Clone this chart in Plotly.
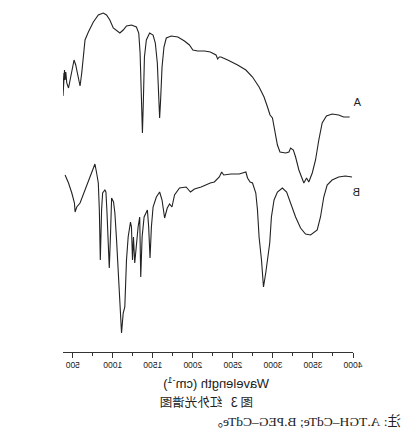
import plotly.graph_objects as go

wn_a = [376, 378, 397, 404, 413, 425, 447, 466, 488, 516, 537, 562, 591, 612, 633, 653,
        695, 757, 819, 881, 922, 963, 1006, 1047, 1088, 1130, 1171, 1233, 1295, 1324,
        1341, 1357, 1370, 1382, 1395, 1419, 1460, 1503, 1531, 1556, 1572, 1585, 1597,
        1615, 1639, 1668, 1730, 1813, 1895, 1957, 2000, 2062, 2144, 2218, 2289, 2310,
        2330, 2351, 2435, 2559, 2662, 2745, 2827, 2889, 2932, 2964, 2994, 3022, 3056,
        3088, 3159, 3200, 3221, 3255, 3283, 3324, 3367, 3386, 3420, 3448, 3491, 3532,
        3573, 3615, 3668, 3739, 3821, 3883, 3958]
t_a = [279, 256, 282, 272, 280, 269, 264, 272, 284, 292, 287, 277, 266, 279, 299, 312,
       320, 330, 337, 339, 337, 332, 324, 321, 319, 322, 326, 327, 325, 319,
       299, 255, 219, 252, 295, 312, 319, 317, 309, 289, 265, 234, 252,
       285, 305, 314, 316, 315, 311, 307, 302, 301, 301, 300, 297, 293,
       295, 295, 292, 287, 282, 275, 265, 255, 245, 237, 234, 222, 207,
       200, 199, 200, 204, 202, 195, 182, 172, 169, 174, 170, 179, 192,
       212, 229, 236, 238, 237, 235, 235]

wn_b = [404, 447, 488, 521, 529, 550, 591, 653, 715, 757, 777, 798, 819, 832, 844, 860,
        873, 901, 914, 926, 944, 956, 972, 985, 1009, 1026, 1047, 1068, 1088, 1109,
        1130, 1150, 1171, 1192, 1221, 1233, 1246, 1258, 1274, 1295, 1316, 1336, 1349,
        1366, 1391, 1432, 1448, 1465, 1482, 1503, 1544, 1585, 1615, 1647, 1680, 1709,
        1739, 1771, 1833, 1916, 1970, 2020, 2103, 2218, 2268, 2330, 2360, 2385, 2476,
        2579, 2662, 2683, 2715, 2745, 2765, 2786, 2807, 2827, 2857, 2882, 2910, 2932,
        2960, 2981, 3014, 3056, 3118, 3171, 3221, 3283, 3345, 3407, 3470, 3553, 3594,
        3635, 3677, 3739, 3821, 3904, 3988]
t_b = [177, 169, 159, 149, 140, 145, 149, 162, 174, 184, 188, 179, 169, 142, 92, 142,
       159, 162, 160, 142, 102, 84, 119, 154, 150, 139, 112, 75, 45, 19,
       39, 45, 92, 115, 130, 125, 92, 115, 89, 109, 125, 135, 75,
       115, 135, 142, 125, 94, 125, 145, 155, 160, 152, 134, 144, 148,
       145, 157, 164, 165, 160, 163, 165, 169, 170, 175, 180, 177, 178,
       178, 180, 174, 170, 169, 165, 159, 142, 115, 92, 65, 79, 92,
       109, 135, 152, 160, 164, 160, 149, 135, 124, 118, 117, 122, 135,
       155, 167, 172, 175, 176, 175]

tick_vals = [500, 1000, 1500, 2000, 2500, 3000, 3500, 4000]

LINE = "#222222"

fig = go.Figure()
for x, y in ((wn_a, t_a), (wn_b, t_b)):
    fig.add_trace(go.Scatter(x=x, y=y, mode="lines",
                             line=dict(color=LINE, width=1.1), showlegend=False))

fig.update_layout(
    width=406, height=431,
    margin=dict(l=53, r=63, t=12, b=79),
    plot_bgcolor="white", paper_bgcolor="white",
    font=dict(family="Liberation Sans, Arial", color="#222"),
    xaxis=dict(
        range=[4000, 378], showgrid=False, zeroline=False,
        showline=True, linecolor="#333", linewidth=1,
        ticks="outside", ticklen=5, tickcolor="#333",
        tickvals=tick_vals, ticktext=[str(v) for v in tick_vals],
        tickfont=dict(size=8.5),
        minor=dict(tickvals=[750, 1250, 1750, 2250, 2750, 3250, 3750],
                   ticks="outside", ticklen=3, tickcolor="#333"),
    ),
    yaxis=dict(range=[0, 340], visible=False),
)

notes = [
    dict(text="A", x=-0.013, y=250, yref="y", size=11, font="Liberation Sans", anchor="center"),
    dict(text="B", x=-0.013, y=160, yref="y", size=11, font="Liberation Sans", anchor="center"),
    dict(text="Wavelength (cm<sup>-1</sup>)", x=0.472, y=-0.091, yref="paper",
         size=13, font="Liberation Sans", anchor="center"),
    dict(text="图 3   红外光谱图", x=0.504, y=-0.147, yref="paper",
         size=12.5, font="Noto Sans CJK SC", anchor="center"),
    dict(text="注: A.TGH–CdTe; B.PEG–CdTe。", x=-0.172, y=-0.203, yref="paper",
         size=13.5, font="Liberation Serif, Noto Sans CJK SC", anchor="left"),
]
for n in notes:
    fig.add_annotation(text=n["text"], x=n["x"], xref="paper", y=n["y"], yref=n["yref"],
                       xanchor=n["anchor"], yanchor="middle", showarrow=False,
                       font=dict(size=n["size"], family=n["font"], color="#222"))

# the scan is a mirror image, so flip the whole figure horizontally
fig.write_html("out.html", config={"displayModeBar": False},
               post_script="document.body.style.margin='0';"
                           "document.getElementById('{plot_id}').style.transform='scaleX(-1)';")
